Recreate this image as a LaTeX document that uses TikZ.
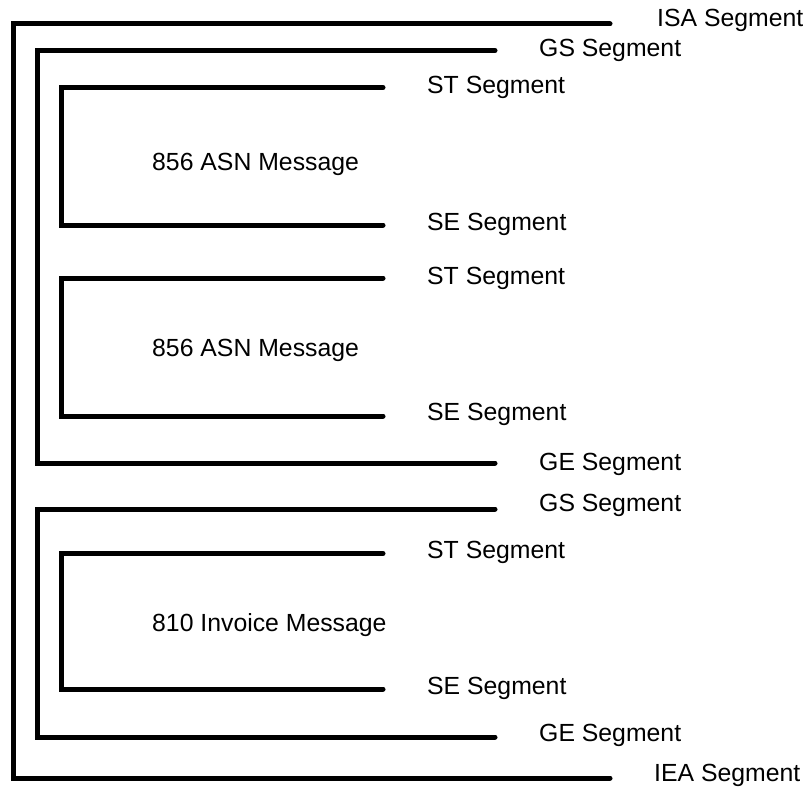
\documentclass[tikz,border=0pt]{standalone}
\usepackage{fontspec}
\setmainfont{Liberation Sans}
\begin{document}
\begin{tikzpicture}[x=1pt,y=-1pt,
  bracket/.style={line width=5pt,line cap=round,line join=miter,black},
  seglabel/.style={anchor=base west,inner sep=0pt,font=\fontsize{24.8}{28}\selectfont},
  msglabel/.style={anchor=base west,inner sep=0pt,font=\fontsize{24.8}{28}\selectfont}]
\useasboundingbox (0,0) rectangle (811,789);
% interchange envelope
\coordinate (isaE) at (610,24);
\coordinate (isaC) at (13.5,24);
\coordinate (ieaC) at (13.5,778);
\coordinate (ieaE) at (610,778);
\draw[bracket] (isaE) -- (isaC) -- (ieaC) -- (ieaE);
% group 1
\coordinate (gs1E) at (495,50.5);
\coordinate (gs1C) at (37,50.5);
\coordinate (ge1C) at (37,463);
\coordinate (ge1E) at (495,463);
\draw[bracket] (gs1E) -- (gs1C) -- (ge1C) -- (ge1E);
% message 1
\coordinate (st1E) at (383,87.5);
\coordinate (st1C) at (61.5,87.5);
\coordinate (se1C) at (61.5,225);
\coordinate (se1E) at (383,225);
\draw[bracket] (st1E) -- (st1C) -- (se1C) -- (se1E);
% message 2
\coordinate (st2E) at (383,278);
\coordinate (st2C) at (61.5,278);
\coordinate (se2C) at (61.5,416);
\coordinate (se2E) at (383,416);
\draw[bracket] (st2E) -- (st2C) -- (se2C) -- (se2E);
% group 2
\coordinate (gs2E) at (495,509);
\coordinate (gs2C) at (37,509);
\coordinate (ge2C) at (37,737);
\coordinate (ge2E) at (495,737);
\draw[bracket] (gs2E) -- (gs2C) -- (ge2C) -- (ge2E);
% message 3
\coordinate (st3E) at (383,553.5);
\coordinate (st3C) at (61.5,553.5);
\coordinate (se3C) at (61.5,689);
\coordinate (se3E) at (383,689);
\draw[bracket] (st3E) -- (st3C) -- (se3C) -- (se3E);
% labels
\node[seglabel] (isaL) at (657,27) {ISA Segment};
\node[seglabel] (gs1L) at (539,57) {GS Segment};
\node[seglabel] (st1L) at (427,94) {ST Segment};
\node[msglabel] (m1L) at (152,171) {856 ASN Message};
\node[seglabel] (se1L) at (427,230) {SE Segment};
\node[seglabel] (st2L) at (427,284) {ST Segment};
\node[msglabel] (m2L) at (152,356) {856 ASN Message};
\node[seglabel] (se2L) at (427,420) {SE Segment};
\node[seglabel] (ge1L) at (539,470) {GE Segment};
\node[seglabel] (gs2L) at (539,511) {GS Segment};
\node[seglabel] (st3L) at (427,558) {ST Segment};
\node[msglabel] (m3L) at (152,631) {810 Invoice Message};
\node[seglabel] (se3L) at (427,694) {SE Segment};
\node[seglabel] (ge2L) at (539,741) {GE Segment};
\node[seglabel] (ieaL) at (654,781) {IEA Segment};
\end{tikzpicture}
\end{document}
